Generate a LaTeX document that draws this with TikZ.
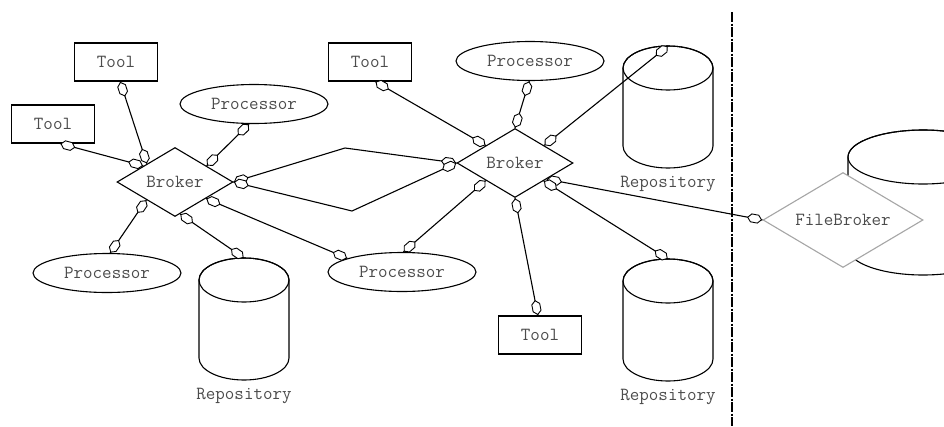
\documentclass[tikz,border=0pt]{standalone}
\usepackage{fontspec}
\usetikzlibrary{shapes.geometric,decorations.markings}

% little diamond that sits on both ends of every link
\newcommand\linkmark{\draw[line width=0.9pt,fill=white]
  (-7pt,0)--(-3.5pt,4pt)--(3.5pt,4pt)--(7pt,0)--(3.5pt,-4pt)--(-3.5pt,-4pt)--cycle;}

% repository drum: name, centre x, centre y (link end is the top rim)
\newcommand\drum[3]{%
  \begin{scope}[shift={(#2,#3)}]
    \filldraw[fill=white,line width=1.1pt] (-45,-39) -- (-45,39)
      arc[start angle=180,end angle=360,x radius=45pt,y radius=22pt] -- (45,-39)
      arc[start angle=0,end angle=180,x radius=45pt,y radius=22pt] -- cycle;
    \draw[line width=1.1pt] (0,-39) ellipse[x radius=45pt,y radius=22pt];
    \coordinate (#1) at (0,-61);
    \node (#1-l) at (0,77) {Repository};
  \end{scope}}

\begin{document}
\begin{tikzpicture}[x=1pt,y=-1pt,
  every node/.style={font=\ttfamily\fontsize{18.5}{20}\selectfont,text=black!70},
  tool/.style={draw=black,line width=1.1pt,fill=white,inner sep=0pt,
    minimum width=83pt,minimum height=38pt},
  proc/.style={ellipse,draw=black,line width=1.1pt,fill=white,inner sep=0pt,
    minimum width=148pt,minimum height=39pt},
  broker/.style={diamond,aspect=1.7,draw=black,line width=1.1pt,fill=white,inner sep=0pt,
    minimum width=116pt,minimum height=69pt},
  link/.style={line width=1.1pt,postaction=decorate,
    decoration={markings,
      mark=at position 8pt with {\linkmark},
      mark=at position -8pt with {\linkmark}}},
  divider/.style={line width=1.1pt,dash pattern=on 10pt off 1.5pt on 2pt off 1.5pt}]
\useasboundingbox (0,0) rectangle (944,426);
\clip (0,0) rectangle (944,426);

% left broker and its parts
\node[tool] (tA) at (116,62) {Tool};
\node[tool] (tB) at (53,124) {Tool};
\node[proc] (pA) at (254,104) {Processor};
\node[broker] (bA) at (175,182) {Broker};
\node[proc] (pB) at (107,273) {Processor};
\drum{rA}{244}{319}
\node[proc] (pC) at (402,272) {Processor};

% right broker and its parts
\node[tool] (tC) at (370,62) {Tool};
\node[proc] (pD) at (530,61) {Processor};
\drum{rB}{668}{107}
\node[broker] (bB) at (515,163) {Broker};
\node[tool] (tD) at (540,335) {Tool};
\drum{rC}{668}{320}

% file broker in front of its store
\filldraw[fill=white,line width=1.1pt] (848,157) -- (848,248)
  arc[start angle=180,end angle=360,x radius=75pt,y radius=27pt] -- (998,157)
  arc[start angle=0,end angle=180,x radius=75pt,y radius=27pt] -- cycle;
\draw[line width=1.1pt] (923,157) ellipse[x radius=75pt,y radius=27pt];
\node[broker,draw=black!35,minimum width=160pt,minimum height=95pt] (fb) at (843,220) {FileBroker};

\draw[divider] (732,12) -- (732,426);

\coordinate (upper) at (345,148);
\coordinate (lower) at (352,211);

\draw[link] (tA.282) -- (bA.147);
\draw[link] (tB.290) -- (bA.153);
\draw[link] (pA.256) -- (bA.27);
\draw[link] (bA.east) -- (upper) -- (bB.west);
\draw[link] (bA.east) -- (lower) -- (bB.west);
\draw[link] (bA.212) -- (pB.81);
\draw[link] (bA.279) -- (rA);
\draw[link] (bA.332) -- (pC.166);

\draw[link] (tC.285) -- (bB.149);
\draw[link] (pD.268) -- (bB.north);
\draw[link] (bB.31) -- (rB);
\draw[link] (bB.333) -- (fb.west);
\draw[link] (bB.328) -- (rC);
\draw[link] (bB.south) -- (tD.96);
\draw[link] (bB.211) -- (pC.86);
\end{tikzpicture}
\end{document}
